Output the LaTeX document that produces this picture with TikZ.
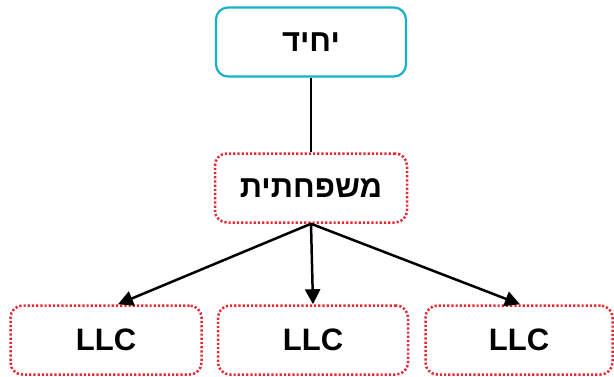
\documentclass[tikz,border=0pt]{standalone}
\usepackage{fontspec}
\setmainfont{Liberation Sans}
\newfontfamily\hebfont[Script=Hebrew]{Liberation Sans}
\TeXXeTstate=1
\definecolor{tealline}{RGB}{20,178,200}
\definecolor{redline}{RGB}{232,40,52}
\tikzset{
  box/.style={rounded corners=12pt, minimum width=190pt, minimum height=69pt,
    font=\fontsize{31}{36}\selectfont\bfseries, line width=2.2pt, inner sep=0pt},
  solidbox/.style={box, draw=tealline},
  dotbox/.style={box, draw=redline, dotted, line width=2.5pt},
  link/.style={line width=2.5pt, draw=black},
  arr/.style={link, -{Triangle[length=15pt,width=15pt]}}
}
\usetikzlibrary{arrows.meta}
\begin{document}
\begin{tikzpicture}[x=1pt,y=-1pt]
        \useasboundingbox (0,0) rectangle (614,376);
        \node[solidbox] (v0) at (311, 42) {\hebfont\beginR יחיד\endR};
        \node[dotbox, minimum width=192pt] (v1) at (311, 188) {\hebfont\beginR משפחתית\endR};
        \node[dotbox, minimum width=191pt] (v2) at (106, 340) {LLC};
        \node[dotbox, minimum width=190pt] (v3) at (313, 340) {LLC};
        \node[dotbox, minimum width=187pt] (v4) at (519, 340) {LLC};
        \draw[link] (v0) -- (v1);
        \draw[arr] (v1.south) -- ([xshift=12pt]v2.north);
        \draw[arr] (v1.south) -- (v3.north);
        \draw[arr] (v1.south) -- ([xshift=1pt]v4.north);
        \end{tikzpicture}
\end{document}
